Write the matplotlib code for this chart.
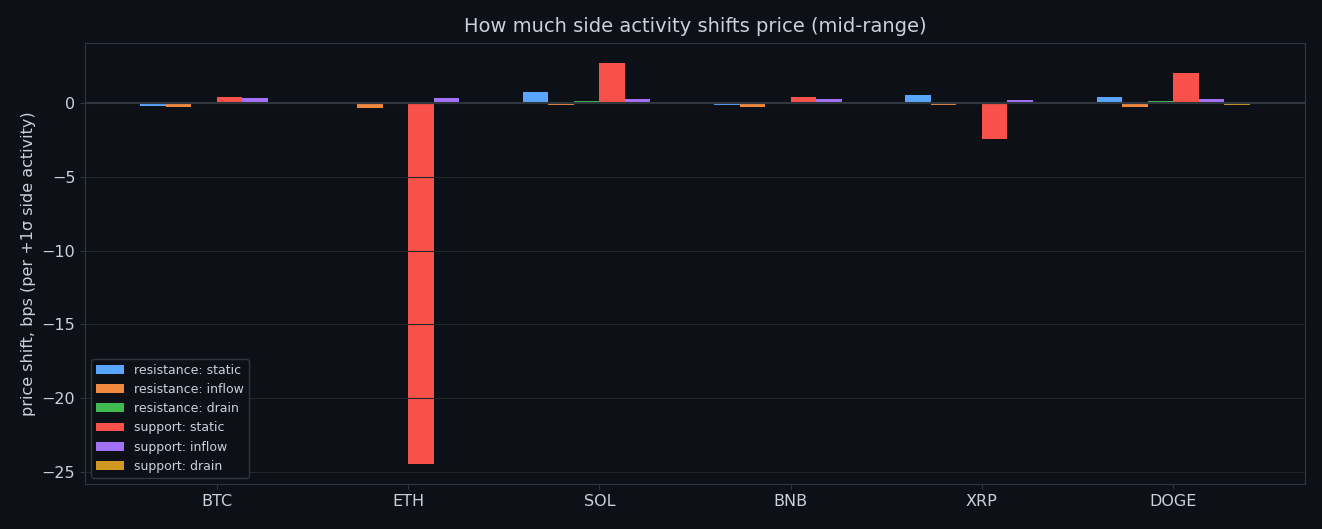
import numpy as np
import matplotlib
matplotlib.use("Agg")
import matplotlib.pyplot as plt

categories = ["BTC", "ETH", "SOL", "BNB", "XRP", "DOGE"]
series_names = ["resistance: static", "resistance: inflow", "resistance: drain",
                "support: static", "support: inflow", "support: drain"]
res_static = [-0.18, 0.0, 0.75, -0.10, 0.54, 0.40]
res_inflow = [-0.25, -0.34, -0.12, -0.25, -0.10, -0.25]
res_drain = [0.0, 0.0, 0.13, 0.0, 0.03, 0.12]
sup_static = [0.40, -24.45, 2.71, 0.40, -2.42, 2.03]
sup_inflow = [0.33, 0.34, 0.27, 0.27, 0.20, 0.27]
sup_drain = [0.02, 0.02, 0.02, 0.0, 0.0, -0.10]
series = [res_static, res_inflow, res_drain, sup_static, sup_inflow, sup_drain]
colors = ["#58a6ff", "#f0883e", "#3fb950", "#f85149", "#a371f7", "#d29922"]

bg = "#0d1117"
fg = "#c9d1d9"
edge = "#30363d"

fig = plt.figure(figsize=(13.22, 5.29), dpi=100, facecolor=bg)
ax = fig.add_axes([85/1322, 1 - 484/529, (1305-85)/1322, (484-43)/529])
ax.set_facecolor(bg)

x = np.arange(len(categories))
w = 0.8 / 6
for i, (vals, name, c) in enumerate(zip(series, series_names, colors)):
    ax.bar(x + (i - 2.5) * w, vals, w, color=c, label=name, zorder=2)

ax.set_axisbelow(False)
ax.grid(axis="y", color="#21262d", linewidth=0.8)
ax.axhline(0, color=edge, linewidth=1.5, zorder=3)

ax.set_xticks(x)
ax.set_xticklabels(categories)
ax.tick_params(colors=fg, labelsize=11.5)
ax.tick_params(axis="both", color=edge)
for s in ax.spines.values():
    s.set_color(edge)

ax.set_title("How much side activity shifts price (mid-range)", color=fg, fontsize=14, pad=8)
ax.set_ylabel("price shift, bps (per +1σ side activity)", color=fg, fontsize=11.5)

leg = ax.legend(loc="lower left", fontsize=9, facecolor=bg, edgecolor=edge, labelcolor=fg,
                handlelength=2.2, framealpha=1)

fig.savefig("out.png", dpi=100, facecolor=bg)
